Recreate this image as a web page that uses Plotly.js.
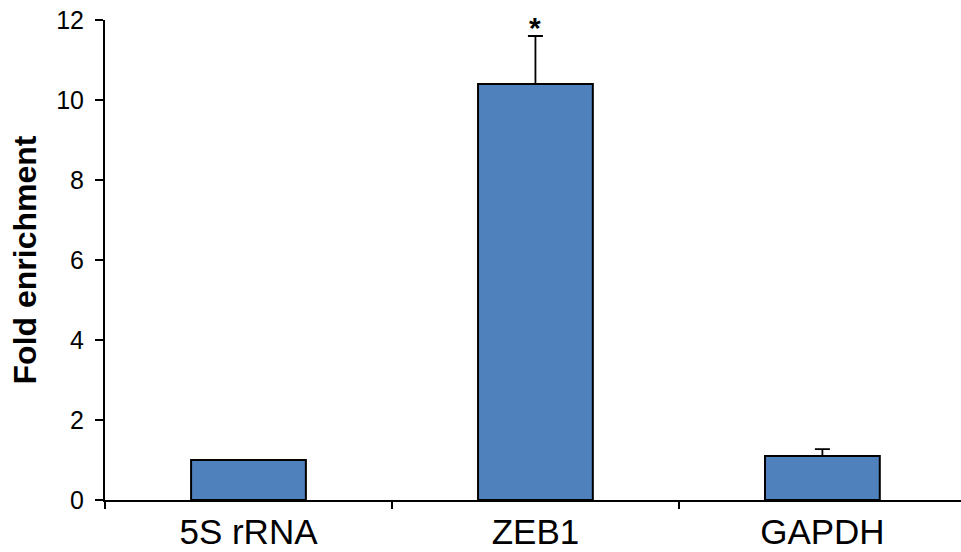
<!DOCTYPE html>
<html>
<head>
<meta charset="utf-8">
<script src="https://cdn.plot.ly/plotly-3.0.1.min.js"></script>
<style>html,body{margin:0;padding:0;background:#fff;}#chart{width:961px;height:552px;}</style>
</head>
<body>
<div id="chart"></div>
<script>
const categories = ["5S rRNA", "ZEB1", "GAPDH"];
const foldEnrichment = [1.0, 10.4, 1.1];
const errorUp = [0, 1.2, 0.17];
const significance = ["", "*", ""];
const yTicks = [0, 2, 4, 6, 8, 10, 12];

const trace = {
  type: "bar",
  x: categories,
  y: foldEnrichment,
  width: 0.4,
  marker: { color: "#4F81BD", line: { color: "#000", width: 2 } },
  error_y: {
    type: "data", symmetric: false, array: errorUp,
    arrayminus: errorUp.map(() => 0),
    color: "#000", thickness: 1.8, width: 7.5
  },
  hoverinfo: "none"
};

const annotations = [];
categories.forEach((c, i) => {
  if (significance[i]) {
    annotations.push({
      x: c, y: foldEnrichment[i] + errorUp[i], xref: "x", yref: "y",
      text: "<b>" + significance[i] + "</b>", showarrow: false,
      yanchor: "bottom", yshift: -10,
      font: { family: "Liberation Sans, Arial, sans-serif", size: 30, color: "#000" }
    });
  }
});

const layout = {
  width: 961, height: 552,
  margin: { l: 105, r: 0, t: 20, b: 52 },
  paper_bgcolor: "#fff", plot_bgcolor: "#fff",
  showlegend: false,
  font: { family: "Liberation Sans, Arial, sans-serif", color: "#000" },
  xaxis: {
    type: "category",
    range: [-0.5, 2.483],
    tickson: "boundaries",
    ticks: "outside", ticklen: 7, tickwidth: 2, tickcolor: "#000",
    showline: true, linecolor: "#000", linewidth: 2,
    showgrid: false, zeroline: false,
    tickfont: { size: 35, color: "#000" }
  },
  yaxis: {
    range: [0, 12],
    tickmode: "array", tickvals: yTicks,
    ticks: "outside", ticklen: 8, tickwidth: 2, tickcolor: "#000",
    showline: true, linecolor: "#000", linewidth: 2,
    showgrid: false, zeroline: false,
    tickfont: { size: 25, color: "#000" },
    ticklabelstandoff: 6,
    title: { text: "<b>Fold enrichment</b>", font: { size: 32, color: "#000" }, standoff: 10 }
  },
  annotations: annotations
};

Plotly.newPlot("chart", [trace], layout, { displayModeBar: false, staticPlot: true });
</script>
</body>
</html>
